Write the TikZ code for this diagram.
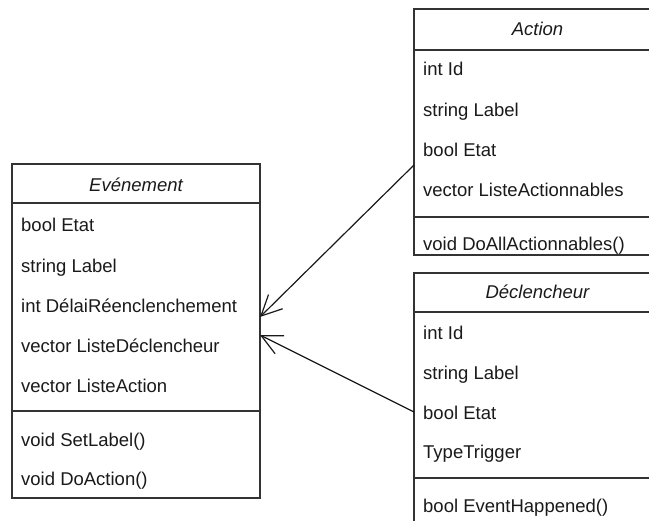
\documentclass[tikz,border=0pt]{standalone}
\usepackage{fontspec}
\setmainfont{Liberation Sans}
\usetikzlibrary{arrows.meta,calc}
\definecolor{edge}{HTML}{333333}
\definecolor{ink}{HTML}{1A1A1A}
\tikzset{
  classbox/.style={draw=edge, line width=1.5pt, fill=white, inner sep=0pt, outer sep=0pt, anchor=north west},
  sepline/.style={draw=edge, line width=1.5pt},
  attr/.style={anchor=base west, inner sep=0pt, text=ink, font=\fontsize{18.5}{22}\selectfont},
  title/.style={anchor=base, inner sep=0pt, text=ink, font=\fontsize{18.5}{22}\selectfont\itshape},
  assoc/.style={draw=ink, line width=1.2pt, -{Straight Barb[length=20.5pt,width=20pt,line width=1.2pt]}}
}
\begin{document}
\begin{tikzpicture}[x=1pt,y=-1pt]
\useasboundingbox (0,0) rectangle (649,521);
\clip (0,0) rectangle (649,521);
\fill[white] (0,0) rectangle (649,521);

% class Evenement
\node[classbox, minimum width=248pt, minimum height=334pt] (ev) at (12,164) {};
\draw[sepline] (12,203) -- (260,203);
\draw[sepline] (12,411) -- (260,411);
\node[title] (evt) at (136,191.7) {Evénement};
\node[attr] (ev1) at (21,231.7) {bool Etat};
\node[attr] (ev2) at (21,272.3) {string Label};
\node[attr] (ev3) at (21,312.2) {int DélaiRéenclenchement};
\node[attr] (ev4) at (21,352.3) {vector ListeDéclencheur};
\node[attr] (ev5) at (21,392.3) {vector ListeAction};
\node[attr] (ev6) at (21,446.7) {void SetLabel()};
\node[attr] (ev7) at (21,486) {void DoAction()};

% class Action
\node[classbox, minimum width=247pt, minimum height=246pt] (act) at (414,9) {};
\draw[sepline] (414,50) -- (661,50);
\draw[sepline] (414,217) -- (661,217);
\node[title] (actt) at (537.5,36) {Action};
\node[attr] (act1) at (423,76) {int Id};
\node[attr] (act2) at (423,116.7) {string Label};
\node[attr] (act3) at (423,157) {bool Etat};
\node[attr] (act4) at (423,197) {vector ListeActionnables};
\node[attr] (act5) at (423,250.7) {void DoAllActionnables()};

% class Declencheur
\node[classbox, minimum width=247pt, minimum height=270pt] (dec) at (414,273) {};
\draw[sepline] (414,312) -- (661,312);
\draw[sepline] (414,478) -- (661,478);
\node[title] (dect) at (537.5,298.3) {Déclencheur};
\node[attr] (dec1) at (423,339.3) {int Id};
\node[attr] (dec2) at (423,379.3) {string Label};
\node[attr] (dec3) at (423,419.3) {bool Etat};
\node[attr] (dec4) at (423,459) {TypeTrigger};
\node[attr] (dec5) at (423,512.3) {bool EventHappened()};

% associations
\draw[assoc] ($(act.north west)+(0,156)$) -- ($(ev.north east)+(0,153)$);
\draw[assoc] ($(dec.north west)+(0,139)$) -- ($(ev.north east)+(0,171)$);
\end{tikzpicture}
\end{document}
